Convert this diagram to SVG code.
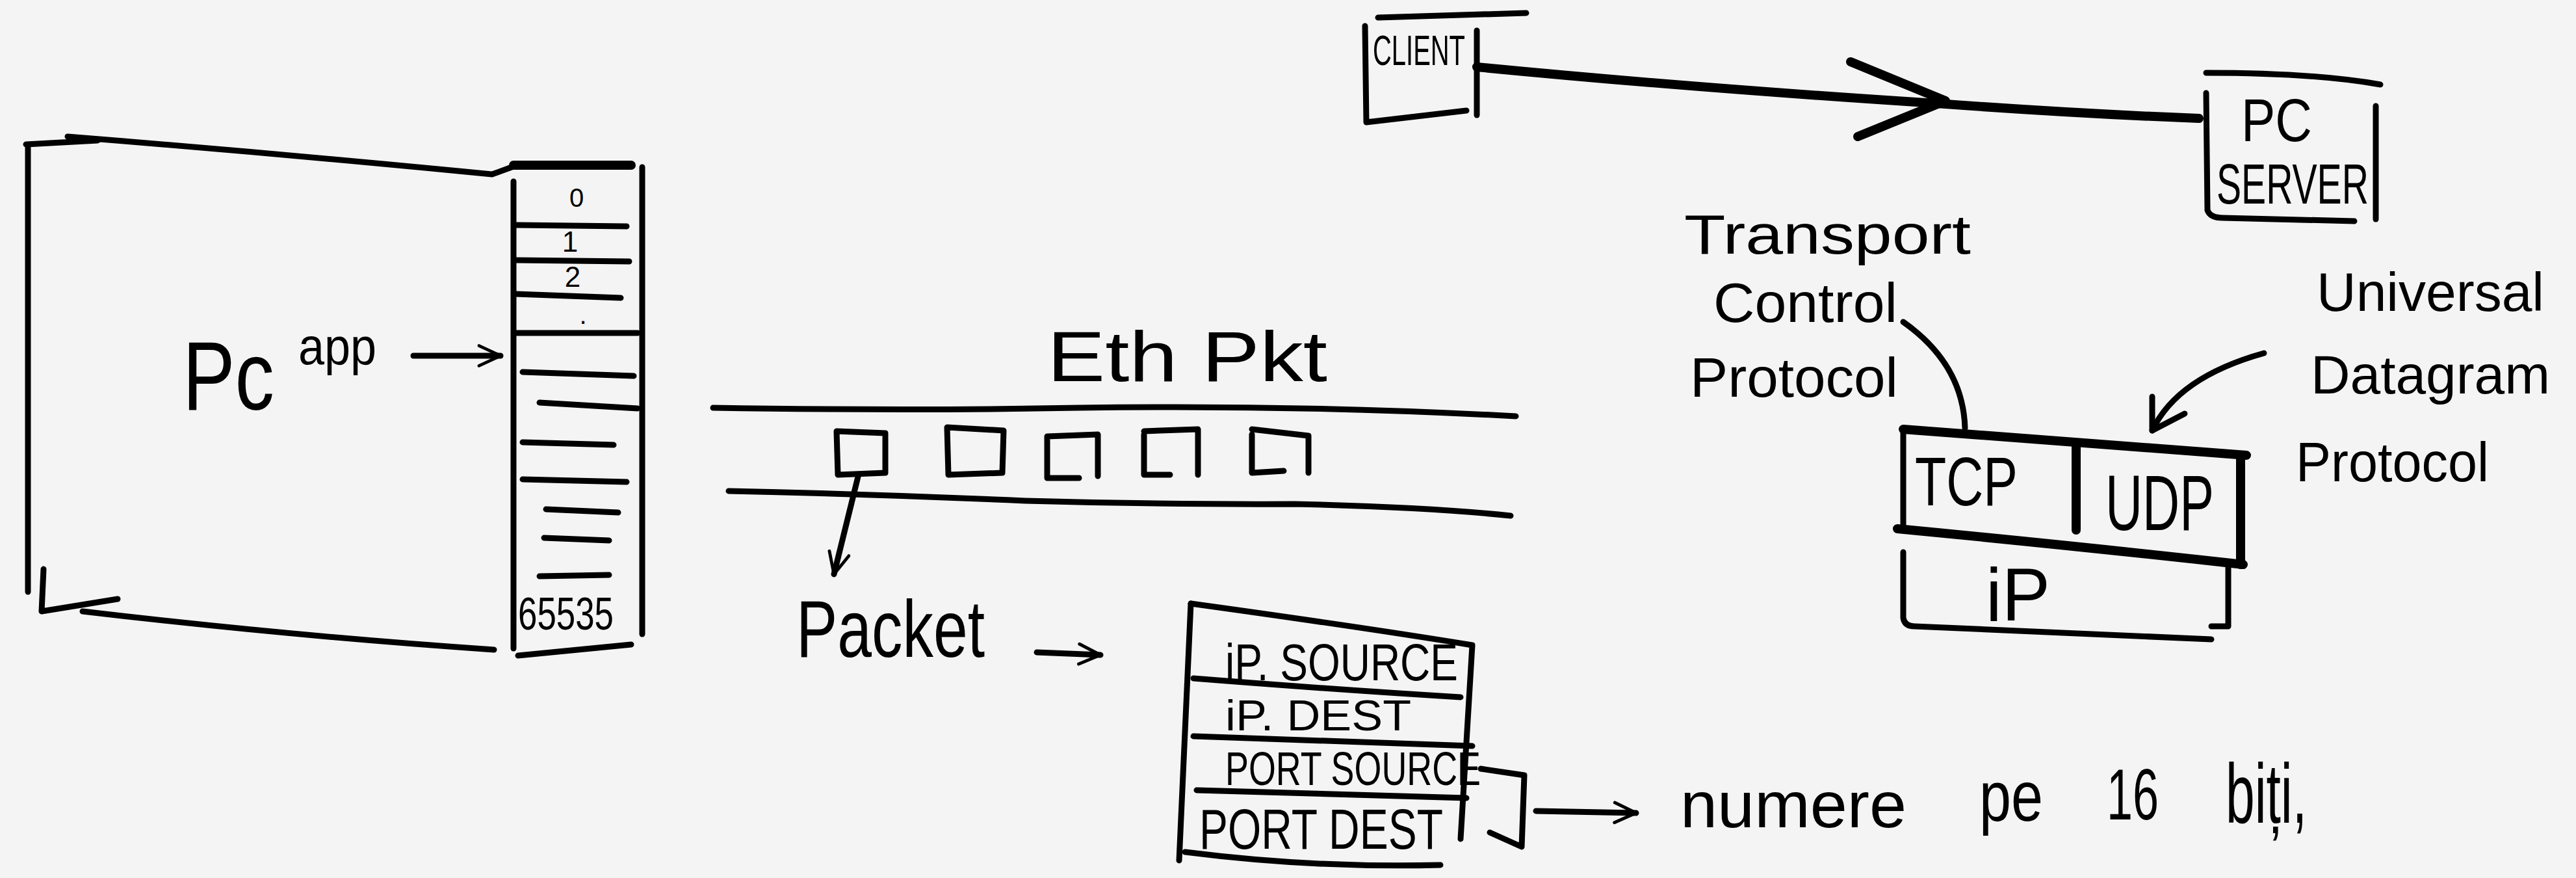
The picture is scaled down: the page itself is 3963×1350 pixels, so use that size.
<svg xmlns="http://www.w3.org/2000/svg" width="3963" height="1350" viewBox="0 0 3963 1350">
<defs>
<style>
.ln{fill:none;stroke:#000;stroke-width:9;stroke-linecap:round;stroke-linejoin:round}
.th{stroke-width:14}
.t{font-family:"Liberation Sans",Arial,sans-serif;fill:#000}
.lbl{font-size:85px}
</style>
<marker id="open" viewBox="0 0 20 20" refX="18" refY="10" markerWidth="44" markerHeight="44" orient="auto" markerUnits="userSpaceOnUse">
<path d="M3 3 L18 10 L3 17" fill="none" stroke="#000" stroke-width="2.2" stroke-linecap="round" stroke-linejoin="round"/>
</marker>
</defs>
<rect width="3963" height="1350" fill="#f4f4f4"/>

<g id="pc-app">
<path class="ln" d="M40 222 L150 216 M104 210 Q430 236 757 268 L790 256"/>
<path class="ln" d="M43 224 L43 910"/>
<path class="ln" d="M67 875 L64 940 L181 921"/>
<path class="ln" d="M127 940 Q450 978 760 999"/>
<text class="t" x="281" y="630" font-size="150" textLength="141" lengthAdjust="spacingAndGlyphs">Pc</text>
<text class="t" x="459" y="560" font-size="80" textLength="120" lengthAdjust="spacingAndGlyphs">app</text>
</g>

<g id="port-column">
<path class="ln th" d="M790 254 L971 254"/>
<path class="ln" d="M790 279 L790 997"/>
<path class="ln" d="M988 257 L988 975"/>
<path class="ln" d="M797 1008 L971 991"/>
<path class="ln" d="M793 346 L964 348 M793 400 L968 402 M793 452 L955 458 M793 512 L981 512 M804 572 L975 578 M830 619 L981 628 M804 680 L944 684 M804 737 L964 741 M840 783 L951 788 M837 827 L937 831 M830 886 L937 884"/>
<text class="t" x="887" y="318" font-size="40" text-anchor="middle">0</text>
<text class="t" x="877" y="387" font-size="44" text-anchor="middle">1</text>
<text class="t" x="881" y="441" font-size="44" text-anchor="middle">2</text>
<text class="t" x="897" y="498" font-size="40" text-anchor="middle">.</text>
<text class="t" x="797" y="968" font-size="70" textLength="147" lengthAdjust="spacingAndGlyphs">65535</text>
</g>

<g id="eth-pkt">
<text class="t" x="1611" y="586" font-size="110" textLength="431" lengthAdjust="spacingAndGlyphs">Eth Pkt</text>
<path class="ln" d="M1097 627 Q1400 632 1660 627 Q2000 622 2332 640"/>
<path class="ln" d="M1121 755 Q1350 760 1577 770 Q1800 776 1992 775 Q2200 780 2324 793"/>
<path class="ln" d="M1287 663 L1362 666 L1362 727 L1289 730 Z"/>
<path class="ln" d="M1457 657 L1544 662 L1542 727 L1459 730 Z"/>
<path class="ln" d="M1611 671 L1689 668 L1689 732 M1611 671 L1611 735 L1660 735"/>
<path class="ln" d="M1760 663 L1843 660 L1843 730 M1760 668 L1760 730 L1800 730"/>
<path class="ln" d="M1926 660 L2013 670 L2013 727 M1926 668 L1926 727 L1975 724"/>
</g>

<g id="packet">
<text class="t" x="1225" y="1010" font-size="125" textLength="290" lengthAdjust="spacingAndGlyphs">Packet</text>
</g>

<g id="packet-table">
<path class="ln" d="M1832 928 Q2100 965 2265 992 L2247 1290"/>
<path class="ln" d="M1832 928 L1814 1323"/>
<path class="ln" d="M1836 1043 Q2050 1060 2247 1072"/>
<path class="ln" d="M1836 1132 L2265 1147"/>
<path class="ln" d="M1841 1215 L2256 1227"/>
<path class="ln" d="M1823 1310 Q2020 1335 2216 1330"/>
<text class="t" x="1885" y="1046" font-size="80" textLength="358" lengthAdjust="spacingAndGlyphs">iP. SOURCE</text>
<text class="t" x="1885" y="1123" font-size="66" textLength="286" lengthAdjust="spacingAndGlyphs">iP. DEST</text>
<text class="t" x="1885" y="1207" font-size="72" textLength="393" lengthAdjust="spacingAndGlyphs">PORT SOURCE</text>
<text class="t" x="1845" y="1305" font-size="88" textLength="375" lengthAdjust="spacingAndGlyphs">PORT DEST</text>
</g>

<g id="port-note">
<path class="ln" d="M2278 1182 L2345 1192 L2341 1302 L2292 1280"/>
<text class="t" x="2585" y="1272" font-size="100" textLength="348" lengthAdjust="spacingAndGlyphs">numere</text>
<text class="t" x="3045" y="1262" font-size="110" textLength="98" lengthAdjust="spacingAndGlyphs">pe</text>
<text class="t" x="3241" y="1260" font-size="112" textLength="80" lengthAdjust="spacingAndGlyphs">16</text>
<text class="t" x="3424" y="1265" font-size="130" textLength="125" lengthAdjust="spacingAndGlyphs">biți,</text>
</g>

<g id="client">
<path class="ln" d="M2120 27 L2348 20"/>
<path class="ln" d="M2100 40 L2102 188 L2256 170"/>
<path class="ln" d="M2272 47 L2272 177"/>
<text class="t" x="2112" y="100" font-size="64" textLength="142" lengthAdjust="spacingAndGlyphs">CLIENT</text>
</g>

<g id="pc-server">
<path class="ln" d="M3394 112 Q3560 112 3662 130"/>
<path class="ln" d="M3394 143 L3396 323 Q3400 335 3420 335 L3622 340"/>
<path class="ln" d="M3655 163 L3655 337"/>
<text class="t" x="3448" y="217" font-size="93" textLength="109" lengthAdjust="spacingAndGlyphs">PC</text>
<text class="t" x="3410" y="313" font-size="88" textLength="234" lengthAdjust="spacingAndGlyphs">SERVER</text>
</g>

<g id="tcp-label">
<text class="t lbl" x="2591" y="390" textLength="441" lengthAdjust="spacingAndGlyphs">Transport</text>
<text class="t lbl" x="2636" y="495" textLength="283" lengthAdjust="spacingAndGlyphs">Control</text>
<text class="t lbl" x="2600" y="610" textLength="320" lengthAdjust="spacingAndGlyphs">Protocol</text>
</g>

<g id="udp-label">
<text class="t" x="3564" y="478" font-size="84" textLength="350" lengthAdjust="spacingAndGlyphs">Universal</text>
<text class="t" x="3555" y="605" font-size="84" textLength="368" lengthAdjust="spacingAndGlyphs">Datagram</text>
<text class="t lbl" x="3532" y="740" textLength="297" lengthAdjust="spacingAndGlyphs">Protocol</text>
</g>

<g id="tcp-udp-stack">
<path class="ln th" d="M2928 660 Q3200 680 3456 700"/>
<path class="ln" d="M2928 660 L2928 813"/>
<path class="ln th" d="M3194 686 L3194 815"/>
<path class="ln th" d="M3447 700 L3447 868"/>
<path class="ln th" d="M2919 813 Q3200 840 3451 868"/>
<text class="t" x="2946" y="777" font-size="105" textLength="158" lengthAdjust="spacingAndGlyphs">TCP</text>
<text class="t" x="3239" y="815" font-size="120" textLength="167" lengthAdjust="spacingAndGlyphs">UDP</text>
</g>

<g id="ip">
<path class="ln" d="M2928 849 L2928 950 Q2930 963 2945 963 L3402 983"/>
<path class="ln" d="M3428 868 L3428 963 L3402 963"/>
<text class="t" x="3055" y="954" font-size="115" textLength="99" lengthAdjust="spacingAndGlyphs">iP</text>
</g>

<g id="connectors">
<path class="ln" d="M636 547 L770 547" marker-end="url(#open)"/>
<path class="ln" d="M1320 733 L1283 883" marker-end="url(#open)"/>
<path class="ln" d="M1595 1003 L1693 1007" marker-end="url(#open)"/>
<path class="ln" d="M2363 1247 L2517 1250" marker-end="url(#open)"/>
<path class="ln th" d="M2272 103 Q2600 135 2993 160 Q3200 175 3383 182"/>
<path class="ln th" d="M2847 95 L2993 155 L2858 210"/>
<path class="ln" d="M2928 495 Q3020 560 3023 658"/>
<path class="ln" d="M3483 543 Q3350 580 3311 662"/>
<path class="ln" d="M3311 610 L3311 662 L3361 636"/>
</g>
</svg>
